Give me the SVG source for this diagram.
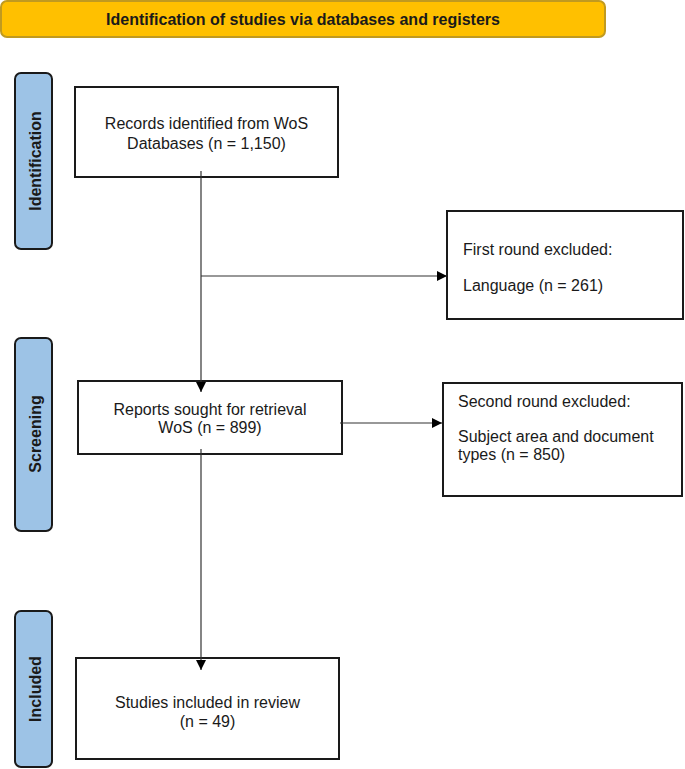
<svg xmlns="http://www.w3.org/2000/svg" width="685" height="769" viewBox="0 0 685 769">
<defs>
<style>
.box{fill:#fff;stroke:#1a1a1a;stroke-width:2}
.side{fill:#9dc3e6;stroke:#1a1a1a;stroke-width:2}
.t{font-family:"Liberation Sans",Arial,sans-serif;font-size:16px;fill:#1a1a1a}
.c{text-anchor:middle}
.b{font-weight:bold}
.ln{stroke:#333;stroke-width:1.2;fill:none}
</style>
<marker id="ah" markerWidth="10" markerHeight="10" refX="10" refY="5" orient="auto" markerUnits="userSpaceOnUse">
<path d="M0,0 L10,5 L0,10 Z" fill="#000"/>
</marker>
</defs>
<rect width="685" height="769" fill="#fff"/>

<g id="banner">
<rect x="1" y="1" width="604" height="36" rx="6" fill="#ffc000" stroke="#c09a20" stroke-width="2"/>
<text class="t b c" x="303" y="25">Identification of studies via databases and registers</text>
</g>

<g id="side-identification">
<rect class="side" x="15" y="73" width="37" height="176" rx="6"/>
<text class="t b c" transform="translate(41,161) rotate(-90)">Identification</text>
</g>
<g id="side-screening">
<rect class="side" x="15" y="338" width="37" height="193" rx="6"/>
<text class="t b c" transform="translate(41,434) rotate(-90)">Screening</text>
</g>
<g id="side-included">
<rect class="side" x="15" y="611" width="37" height="156" rx="6"/>
<text class="t b c" transform="translate(41,689) rotate(-90)">Included</text>
</g>

<g id="records">
<rect class="box" x="75" y="87" width="263" height="90"/>
<text class="t c" x="206.5" y="128.5">Records identified from WoS</text>
<text class="t c" x="206.5" y="148.5">Databases (n = 1,150)</text>
</g>

<g id="excluded1">
<rect class="box" x="447" y="211" width="236" height="108"/>
<text class="t" x="463" y="255">First round excluded:</text>
<text class="t" x="463" y="291">Language (n = 261)</text>
</g>

<g id="reports">
<rect class="box" x="78" y="381" width="264" height="73"/>
<text class="t c" x="210" y="414.5">Reports sought for retrieval</text>
<text class="t c" x="210" y="432.5">WoS (n = 899)</text>
</g>

<g id="excluded2">
<rect class="box" x="443" y="383" width="239" height="113"/>
<text class="t" x="458" y="406.5">Second round excluded:</text>
<text class="t" x="458" y="441.5">Subject area and document</text>
<text class="t" x="458" y="460">types (n = 850)</text>
</g>

<g id="included">
<rect class="box" x="76" y="658" width="263" height="101"/>
<text class="t c" x="207.5" y="708">Studies included in review</text>
<text class="t c" x="207.5" y="727">(n = 49)</text>
</g>

<g id="connectors">
<line class="ln" x1="201" y1="171" x2="201" y2="392" marker-end="url(#ah)"/>
<line class="ln" x1="201" y1="276" x2="447" y2="276" marker-end="url(#ah)"/>
<line class="ln" x1="340" y1="423" x2="442" y2="423" marker-end="url(#ah)"/>
<line class="ln" x1="201" y1="449" x2="201" y2="670" marker-end="url(#ah)"/>
</g>
</svg>
